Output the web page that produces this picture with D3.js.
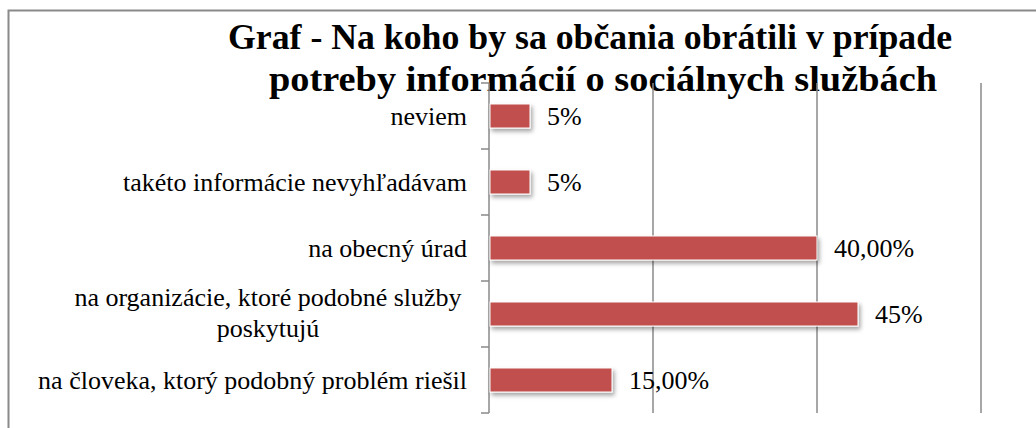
<!DOCTYPE html>
<html lang="en">
  <head>
    <meta charset="utf-8">
    <title>Graf - obcania</title>
    <script src="https://d3js.org/d3.v7.min.js"></script>
  </head>

  <body style="margin: 0;">

  <script>

// data, top to bottom as drawn

  var categories = [
    ["neviem"],
    ["takéto informácie nevyhľadávam"],
    ["na obecný úrad"],
    ["na organizácie, ktoré podobné služby", "poskytujú"],
    ["na človeka, ktorý podobný problém riešil"]
  ];
  var values = [0.05, 0.05, 0.40, 0.45, 0.15];
  var valueLabels = ["5%", "5%", "40,00%", "45%", "15,00%"];
  var gridTicks = [0.2, 0.4, 0.6];
  var titleLines = ["Graf - Na koho by sa občania obrátili v prípade",
                    "potreby informácií o sociálnych službách"];

  var w = 1036;
  var h = 428;
  var plot = {left: 489, right: 981, top: 83, bottom: 413};
  var gray = "#8a8a8a";
  var serif = "Liberation Serif";

  var svg = d3.select("body")
    .append("svg")
      .attr("width", w)
      .attr("height", h);

  // bar shadow
  var f = svg.append("defs").append("filter")
      .attr("id", "shadow")
      .attr("x", "-10%").attr("y", "-30%")
      .attr("width", "130%").attr("height", "190%");
  f.append("feDropShadow")
      .attr("dx", 2).attr("dy", 3)
      .attr("stdDeviation", 2)
      .attr("flood-color", "#000")
      .attr("flood-opacity", 0.35);

  // outer frame (runs off the right and bottom)
  svg.append("rect")
      .attr("x", 8.5).attr("y", 10.5)
      .attr("width", 1100).attr("height", 500)
      .attr("fill", "none")
      .attr("stroke", gray)
      .attr("stroke-width", 2);

  // title, drawn under the grid like the original
  var titleX = [590, 603];
  var titleW = [724, 668];
  svg.append("g").selectAll("text")
      .data(titleLines)
    .enter().append("text")
      .attr("x", (d, i) => titleX[i])
      .attr("y", (d, i) => 49 + i * 42)
      .attr("text-anchor", "middle")
      .attr("font-family", serif)
      .attr("font-size", 36)
      .attr("font-weight", "bold")
      .attr("textLength", (d, i) => titleW[i])
      .attr("lengthAdjust", "spacingAndGlyphs")
      .text(d => d);

  var xScale = d3.scaleLinear()
      .domain([0, 0.6])
      .range([plot.left, plot.right]);

  var yScale = d3.scaleBand()
      .domain(d3.range(categories.length))
      .range([plot.top, plot.bottom])
      .paddingInner(0.636)
      .paddingOuter(0.318);

  var step = yScale.step();

  // gridlines
  svg.append("g").selectAll("line")
      .data(gridTicks)
    .enter().append("line")
      .attr("x1", d => xScale(d)).attr("x2", d => xScale(d))
      .attr("y1", plot.top).attr("y2", plot.bottom)
      .attr("stroke", gray)
      .attr("stroke-width", 1.5);

  // category axis
  var axis = svg.append("g");
  axis.append("line")
      .attr("x1", plot.left).attr("x2", plot.left)
      .attr("y1", plot.top).attr("y2", plot.bottom)
      .attr("stroke", gray)
      .attr("stroke-width", 1.5);
  axis.selectAll(".tick")
      .data(d3.range(categories.length + 1))
    .enter().append("line")
      .attr("class", "tick")
      .attr("x1", plot.left - 8).attr("x2", plot.left)
      .attr("y1", d => plot.top + d * step)
      .attr("y2", d => plot.top + d * step)
      .attr("stroke", gray)
      .attr("stroke-width", 1.5);

  // category labels
  axis.selectAll(".cat")
      .data(categories)
    .enter().append("text")
      .attr("class", "cat")
      .attr("font-family", serif)
      .attr("font-size", 26)
      .attr("text-anchor", d => d.length > 1 ? "middle" : "end")
      .each(function (d, i) {
        var el = d3.select(this);
        var cy = yScale(i) + yScale.bandwidth() / 2;
        if (d.length == 1) {
          el.attr("x", 467).attr("y", cy + 9).text(d[0]);
        } else {
          el.selectAll("tspan")
              .data(d)
            .enter().append("tspan")
              .attr("x", 268)
              .attr("y", (t, j) => cy - 17 + j * 31 + 9)
              .text(t => t);
        }
      });

  // bars
  svg.append("g").selectAll("rect")
      .data(values)
    .enter().append("rect")
      .attr("x", xScale(0) + 1)
      .attr("y", (d, i) => yScale(i))
      .attr("width", d => xScale(d) - xScale(0) - 1)
      .attr("height", yScale.bandwidth())
      .attr("fill", "#c0504d")
      .attr("stroke", "#fff")
      .attr("stroke-width", 1)
      .attr("filter", "url(#shadow)");

  // value labels
  svg.append("g").selectAll("text")
      .data(values)
    .enter().append("text")
      .attr("x", d => xScale(d) + 17)
      .attr("y", (d, i) => yScale(i) + yScale.bandwidth() / 2 + 9)
      .attr("font-family", serif)
      .attr("font-size", 26)
      .text((d, i) => valueLabels[i]);

    </script>

  </body>

</html>
